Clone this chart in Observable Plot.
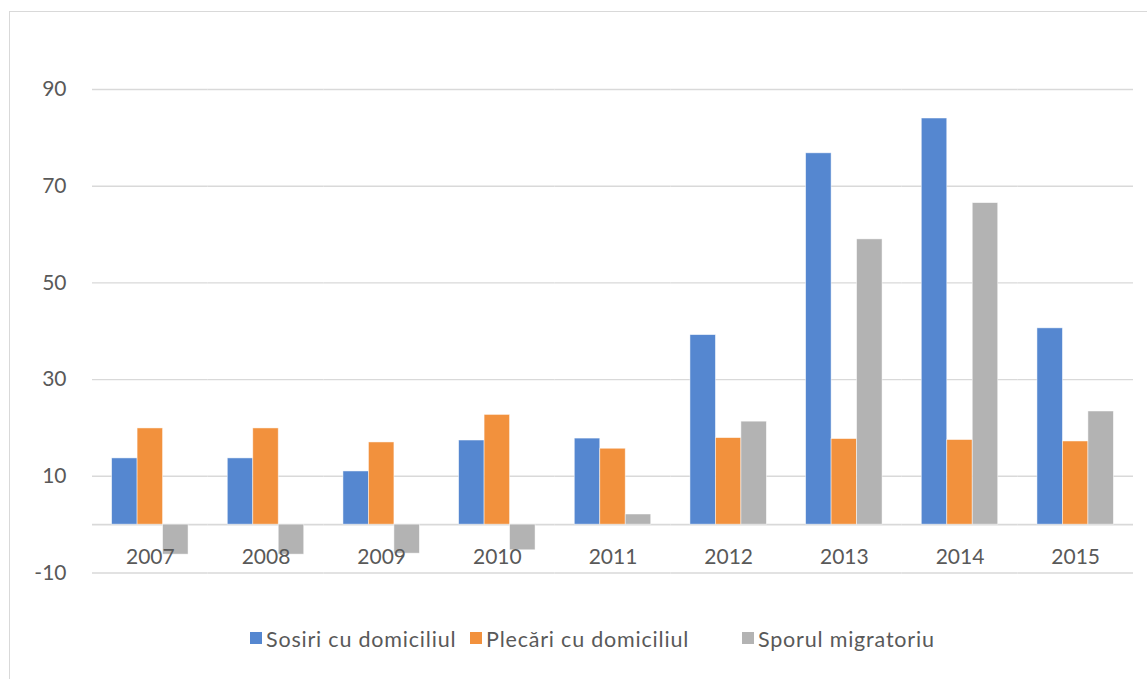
<!DOCTYPE html>
<html>
<head>
<meta charset="utf-8">
<script src="https://cdn.jsdelivr.net/npm/d3@7"></script>
<script src="https://cdn.jsdelivr.net/npm/@observablehq/plot@0.6"></script>
<style>
  html, body { margin: 0; padding: 0; background: #fff; }
  #wrap { position: relative; width: 1147px; height: 679px; overflow: hidden; font-family: Lato, "Open Sans", sans-serif; }
  #frame { position: absolute; left: 9px; top: 11px; width: 1200px; height: 720px; border: 1.5px solid #d9d9d9; box-sizing: border-box; }
  #chart { position: absolute; left: 0; top: 0; }
  #legend { position: absolute; top: 626px; left: 250px; display: flex; align-items: center; color: #595959; font-size: 21.5px; letter-spacing: 0.8px; }
  .item { display: flex; align-items: center; white-space: nowrap; }
  .sw { width: 12px; height: 12px; margin-right: 4px; margin-top: -3px; flex: none; }
</style>
</head>
<body>
<div id="wrap">
  <div id="frame"></div>
  <div id="chart"></div>
  <div id="legend"></div>
</div>
<script>
const years = ["2007","2008","2009","2010","2011","2012","2013","2014","2015"];
const seriesNames = ["Sosiri cu domiciliul", "Plecări cu domiciliul", "Sporul migratoriu"];
const sosiri  = [13.7, 13.7, 11.0, 17.4, 17.8, 39.2, 76.8, 84.0, 40.6];
const plecari = [19.9, 19.9, 17.0, 22.7, 15.7, 17.9, 17.7, 17.5, 17.2];
const spor    = [-6.2, -6.2, -6.0, -5.3, 2.1, 21.3, 59.0, 66.5, 23.4];
const colors = ["#5587d0", "#f2913d", "#b3b3b3"];
const yTicks = [90, 70, 50, 30, 10, -10];
const legendItemWidths = ["220px", "272px", "auto"];

const seriesValues = [sosiri, plecari, spor];
const table = [];
years.forEach((yr, i) => {
  seriesNames.forEach((s, j) => table.push({year: yr, series: s, value: seriesValues[j][i]}));
});

const chart = Plot.plot({
  width: 1147,
  height: 610,
  marginLeft: 92,
  marginRight: 14,
  marginTop: 89,
  marginBottom: 37.5,
  fx: {domain: years, padding: 0, round: false, axis: null, label: null},
  x: {domain: seriesNames, paddingInner: 0, paddingOuter: 0.77, round: false, axis: null},
  y: {domain: [-10, 90], ticks: yTicks, tickSize: 0, tickPadding: 26, tickFormat: d => String(d), label: null},
  color: {domain: seriesNames, range: colors},
  style: {fontFamily: "Lato, 'Open Sans', sans-serif", fontSize: "21px", color: "#595959", background: "transparent", overflow: "visible"},
  marks: [
    Plot.ruleY(yTicks, {stroke: "#d9d9d9", strokeWidth: 1.4}),
    Plot.ruleY([0], {stroke: "#d9d9d9", strokeWidth: 1.6}),
    Plot.barY(table, {fx: "year", x: "series", y: "value", fill: "series", stroke: "white", strokeWidth: 0.8, strokeOpacity: 0.6}),
    Plot.text(years, {fx: d => d, text: d => d, y: 0, dy: 32.5, fill: "#595959", fontSize: 21})
  ]
});
document.getElementById("chart").appendChild(chart);

const legend = document.getElementById("legend");
seriesNames.forEach((s, i) => {
  const it = document.createElement("div");
  it.className = "item";
  it.style.width = legendItemWidths[i];
  const sw = document.createElement("span");
  sw.className = "sw";
  sw.style.background = colors[i];
  const tx = document.createElement("span");
  tx.textContent = s;
  it.appendChild(sw); it.appendChild(tx);
  legend.appendChild(it);
});
</script>
</body>
</html>
